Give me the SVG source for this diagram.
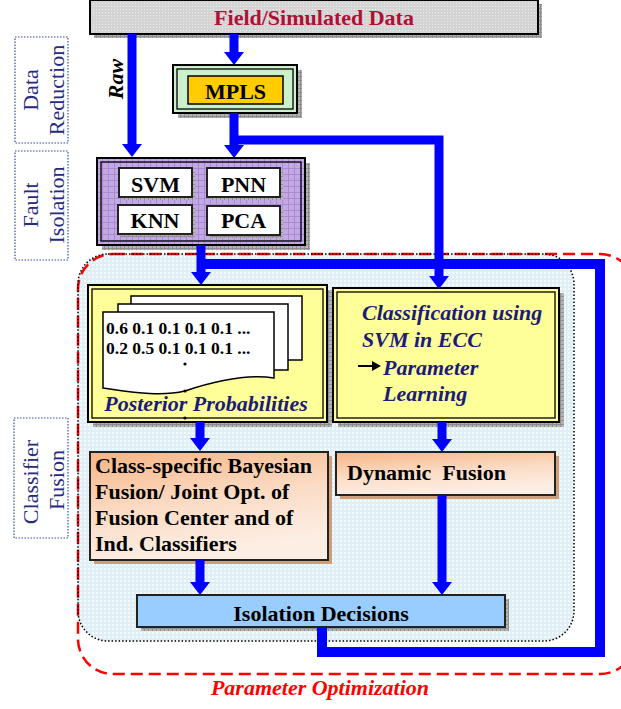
<svg xmlns="http://www.w3.org/2000/svg" width="621" height="709" viewBox="0 0 621 709">
  <defs>
    <style>
      .t { font-family: "Liberation Serif", "Times New Roman", serif; font-weight: bold; font-size: 22px; fill: #000; }
      .ti { font-family: "Liberation Serif", "Times New Roman", serif; font-weight: bold; font-style: italic; font-size: 22px; fill: #1b1b78; }
      .lab { font-family: "Liberation Serif", "Times New Roman", serif; font-size: 22px; fill: #262b82; text-anchor: middle; }
      .labbox { fill: #fff; stroke: #3a4aa0; stroke-width: 1.2; stroke-dasharray: 1.5 1.5; }
      .shadow { fill: url(#shadowTex); }
      .outer { stroke: #000; stroke-width: 2; }
      .inner { fill: none; stroke: #000; stroke-width: 1.3; }
      .plain { stroke: #222; stroke-width: 2; }
      .page { fill: #fff; stroke: #000; stroke-width: 1.5; }
      .flow { fill: none; stroke: #0000ff; stroke-width: 9; stroke-linejoin: miter; }
      .loop { fill: none; stroke: #0000ff; stroke-width: 10; stroke-linejoin: miter; }
    </style>
    <pattern id="shadowTex" width="4" height="4" patternUnits="userSpaceOnUse">
      <rect width="4" height="4" fill="#b4b4b4"/>
      <rect width="4" height="1" fill="#8e8e8e"/>
      <rect width="1" height="4" fill="#8e8e8e"/>
    </pattern>
    <pattern id="greyTex" width="3" height="3" patternUnits="userSpaceOnUse">
      <rect width="3" height="3" fill="#d4d4d4"/>
      <rect width="1" height="1" fill="#ececec"/>
    </pattern>
    <pattern id="blueTex" width="4" height="4" patternUnits="userSpaceOnUse">
      <rect width="4" height="4" fill="#e0eef5"/>
      <rect width="2" height="2" fill="#f3f9fc"/>
    </pattern>
    <pattern id="purpleTex" width="6" height="6" patternUnits="userSpaceOnUse">
      <rect width="6" height="6" fill="#c2a8e4"/>
      <rect width="6" height="1" fill="#a98ccf"/>
      <rect width="1" height="6" fill="#a98ccf"/>
    </pattern>
    <linearGradient id="peach" x1="0" y1="0" x2="0.3" y2="1">
      <stop offset="0" stop-color="#f6b483"/>
      <stop offset="0.55" stop-color="#fbdcc6"/>
      <stop offset="1" stop-color="#fdeee4"/>
    </linearGradient>
    <marker id="head" viewBox="0 0 13 20" refX="0" refY="10" markerWidth="13" markerHeight="20" markerUnits="userSpaceOnUse" orient="auto">
      <path d="M0,0 L13,10 L0,20 Z" fill="#0000ff"/>
    </marker>
  </defs>

  <rect width="621" height="709" fill="#fff"/>

  <!-- stage labels on the left -->
  <g id="label-data-reduction">
    <rect class="labbox" x="15" y="37" width="53" height="106"/>
    <text class="lab" transform="translate(38,90) rotate(-90)">Data</text>
    <text class="lab" transform="translate(64,90) rotate(-90)">Reduction</text>
  </g>
  <g id="label-fault-isolation">
    <rect class="labbox" x="15" y="151" width="53" height="109"/>
    <text class="lab" transform="translate(38,205) rotate(-90)">Fault</text>
    <text class="lab" transform="translate(64,205) rotate(-90)">Isolation</text>
  </g>
  <g id="label-classifier-fusion">
    <rect class="labbox" x="14" y="418" width="54" height="120"/>
    <text class="lab" transform="translate(38,482) rotate(-90)">Classifier</text>
    <text class="lab" transform="translate(64,480) rotate(-90)">Fusion</text>
  </g>

  <!-- classifier fusion region and parameter optimization loop -->
  <g id="fusion-region">
    <rect x="78" y="254" width="496" height="387" rx="30" fill="url(#blueTex)"/>
    <rect x="78" y="254" width="557" height="420" rx="35" fill="none" stroke="#ff0000" stroke-width="2.5" stroke-dasharray="12 6"/>
    <rect x="78" y="254" width="496" height="387" rx="30" fill="none" stroke="#000" stroke-width="1.5" stroke-dasharray="1.5 2"/>
  </g>

  <g id="field-data">
    <rect class="shadow" x="94" y="4" width="448" height="34"/>
    <rect x="90" y="0" width="448" height="34" fill="url(#greyTex)" class="outer"/>
    <text class="t" x="314" y="25" text-anchor="middle" style="fill:#b01035">Field/Simulated Data</text>
  </g>

  <g id="mpls">
    <rect class="shadow" x="178" y="70" width="124" height="48"/>
    <rect x="173" y="65" width="124" height="48" fill="#ccf0cc" class="outer"/>
    <rect class="inner" x="177" y="69" width="116" height="40"/>
    <rect x="188" y="76" width="95" height="28" fill="#ffcc00" stroke="#000" stroke-width="1.5"/>
    <text class="t" x="235.5" y="99" text-anchor="middle">MPLS</text>
  </g>

  <g id="fault-isolation">
    <rect class="shadow" x="102" y="163" width="208" height="87"/>
    <rect x="97" y="158" width="208" height="87" fill="url(#purpleTex)" class="outer"/>
    <rect class="inner" x="101" y="162" width="200" height="79"/>
    <rect class="shadow" x="122" y="171" width="73" height="29"/>
    <rect x="119" y="168" width="73" height="29" fill="#fff" class="plain"/>
    <text class="t" x="155.5" y="192" text-anchor="middle">SVM</text>
    <rect class="shadow" x="210" y="171" width="73" height="29"/>
    <rect x="207" y="168" width="73" height="29" fill="#fff" class="plain"/>
    <text class="t" x="243.5" y="192" text-anchor="middle">PNN</text>
    <rect class="shadow" x="121" y="208" width="74" height="29"/>
    <rect x="118" y="205" width="74" height="29" fill="#fff" class="plain"/>
    <text class="t" x="155" y="228" text-anchor="middle">KNN</text>
    <rect class="shadow" x="210" y="209" width="73" height="29"/>
    <rect x="207" y="206" width="73" height="29" fill="#fff" class="plain"/>
    <text class="t" x="243.5" y="228" text-anchor="middle">PCA</text>
  </g>

  <g id="posterior-probabilities">
    <rect class="shadow" x="93" y="290" width="239" height="137"/>
    <rect x="88" y="285" width="239" height="137" fill="#ffff99" class="outer"/>
    <rect class="inner" x="92" y="289" width="231" height="129"/>
    <rect class="page" x="131" y="296" width="171" height="64"/>
    <rect class="page" x="118" y="304" width="170" height="66"/>
    <path class="page" d="M103,312 H274 V378 C248,374 218,380 185,391 C160,397 132,392 103,388 Z"/>
    <text class="t" x="106" y="334" style="font-size:17.5px">0.6 0.1 0.1 0.1 0.1 ...</text>
    <text class="t" x="106" y="354" style="font-size:17.5px">0.2 0.5 0.1 0.1 0.1 ...</text>
    <circle cx="185" cy="364" r="1.6" fill="#000"/>
    <circle cx="185" cy="391" r="1.6" fill="#000"/>
    <circle cx="185" cy="418" r="1.6" fill="#000"/>
    <text class="ti" x="206" y="411" text-anchor="middle">Posterior Probabilities</text>
  </g>

  <g id="classification-svm">
    <rect class="shadow" x="338" y="293" width="226" height="134"/>
    <rect x="333" y="288" width="226" height="134" fill="#ffff99" class="outer"/>
    <rect class="inner" x="337" y="292" width="218" height="126"/>
    <text class="ti" x="362" y="320">Classification using</text>
    <text class="ti" x="362" y="347">SVM in ECC</text>
    <path d="M358,366 H373" stroke="#000" stroke-width="2"/>
    <path d="M372,361 L381,366 L372,371 Z" fill="#000"/>
    <text class="ti" x="383" y="375">Parameter</text>
    <text class="ti" x="383" y="401">Learning</text>
  </g>

  <g id="bayesian-fusion">
    <rect x="94" y="456" width="238" height="108" fill="#c98a5a" opacity="0.8"/>
    <rect x="90" y="452" width="238" height="108" fill="url(#peach)" class="plain"/>
    <text class="t" x="95" y="473">Class-specific Bayesian</text>
    <text class="t" x="95" y="499">Fusion/ Joint Opt. of</text>
    <text class="t" x="95" y="525">Fusion Center and of</text>
    <text class="t" x="95" y="551">Ind. Classifiers</text>
  </g>

  <g id="dynamic-fusion">
    <rect x="340" y="456" width="219" height="43" fill="#c98a5a" opacity="0.8"/>
    <rect x="336" y="452" width="219" height="43" fill="url(#peach)" class="plain"/>
    <text class="t" x="347" y="480" xml:space="preserve">Dynamic  Fusion</text>
  </g>

  <g id="isolation-decisions">
    <rect class="shadow" x="141" y="599" width="368" height="32"/>
    <rect x="137" y="595" width="368" height="32" fill="#99ccff" class="plain"/>
    <text class="t" x="321" y="621" text-anchor="middle">Isolation Decisions</text>
  </g>

  <text id="label-parameter-optimization" class="ti" x="320" y="695" text-anchor="middle" style="fill:#ff0000">Parameter Optimization</text>

  <!-- connectors -->
  <g id="connectors">
    <path class="loop" d="M322,627 V652 H600 V264 H201"/>
    <path class="flow" d="M132,34 V144" marker-end="url(#head)"/>
    <path class="flow" d="M234,34 V52" marker-end="url(#head)"/>
    <path class="flow" d="M234,113 V145" marker-end="url(#head)"/>
    <path class="flow" d="M234,140 H439 V276" marker-end="url(#head)"/>
    <path class="flow" d="M201,245 V272" marker-end="url(#head)"/>
    <path class="flow" d="M200,422 V438" marker-end="url(#head)"/>
    <path class="flow" d="M442,422 V439" marker-end="url(#head)"/>
    <path class="flow" d="M200,560 V582" marker-end="url(#head)"/>
    <path class="flow" d="M442,495 V582" marker-end="url(#head)"/>
    <text x="123" y="79" transform="rotate(-90 123 79)" text-anchor="middle" style="font-family:'Liberation Serif','Times New Roman',serif;font-weight:bold;font-style:italic;font-size:22px;fill:#000">Raw</text>
  </g>
</svg>
